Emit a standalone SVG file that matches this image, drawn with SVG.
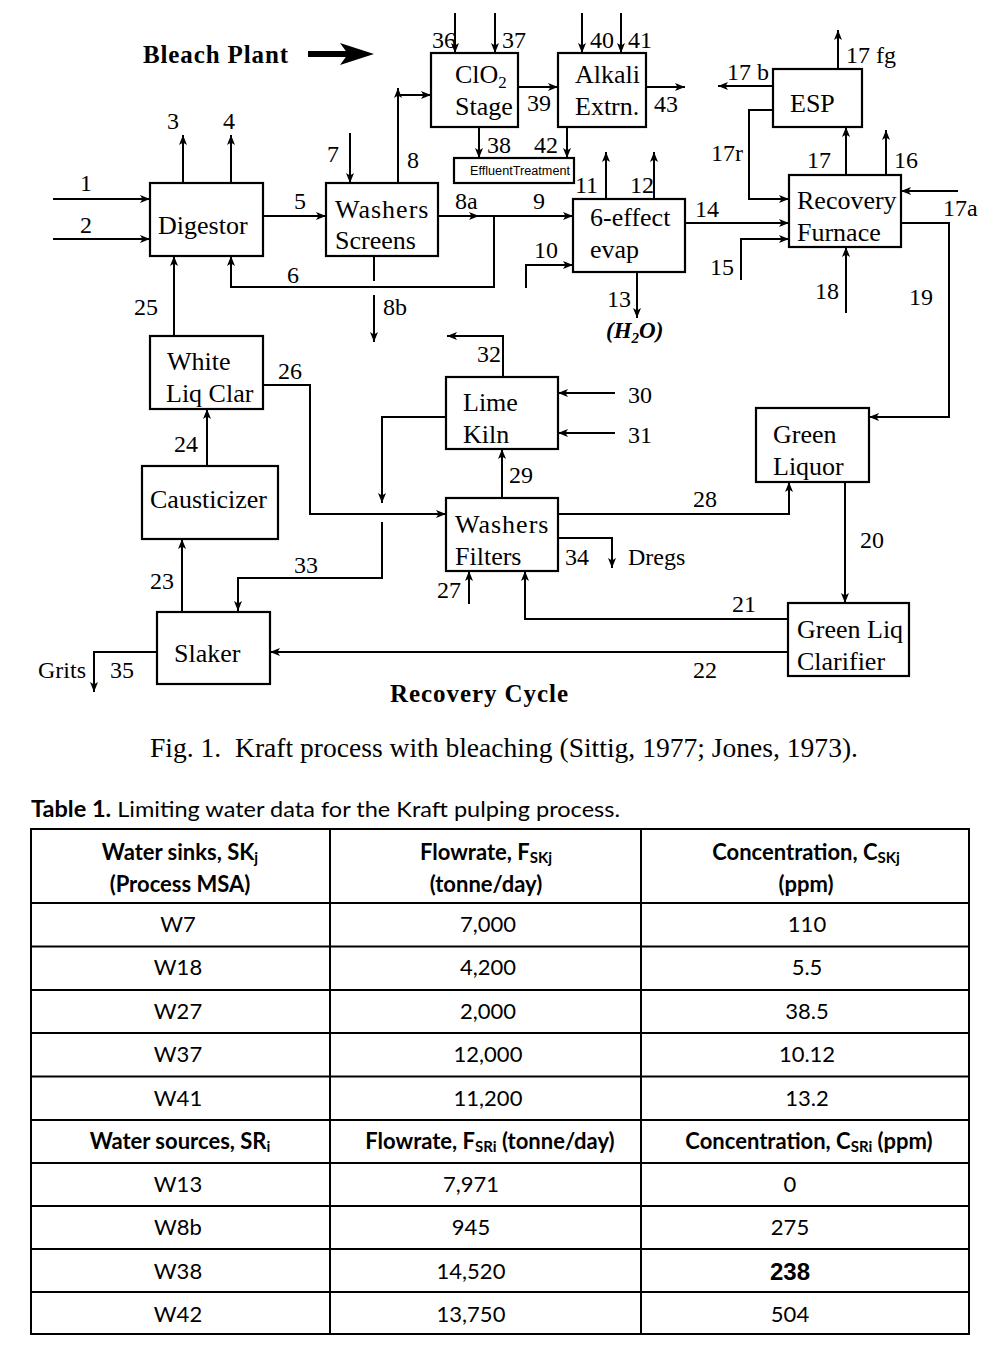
<svg xmlns="http://www.w3.org/2000/svg" width="994" height="1360" viewBox="0 0 994 1360">
<style>
.bx{fill:#fff;stroke:#000;stroke-width:2.2}
.ln{fill:none;stroke:#000;stroke-width:2}
.nt{font-family:"Liberation Serif","Times New Roman",serif;font-size:26px;fill:#000}
.lb{font-family:"Liberation Serif","Times New Roman",serif;font-size:24px;fill:#000}
.tb{font-family:Lato,"Liberation Sans",sans-serif;font-size:22px;fill:#000}
.th{font-family:Lato,"Liberation Sans",sans-serif;font-size:22px;font-weight:bold;fill:#000}
.tl{fill:none;stroke:#000;stroke-width:2}
</style>
<defs>
<marker id="ah" markerWidth="12" markerHeight="10" refX="10" refY="4" orient="auto" markerUnits="userSpaceOnUse"><path d="M0,0 L10,4 L0,8 L2.5,4 z" fill="#000"/></marker>
</defs>
<rect width="994" height="1360" fill="#fff"/>

<!-- Titles -->
<text x="143" y="63" font-family="'Liberation Serif',serif" font-weight="bold" font-size="25" textLength="145">Bleach Plant</text>
<g id="bleach-arrow">
<line x1="308" y1="54" x2="350" y2="54" stroke="#000" stroke-width="6"/>
<path d="M340,43 L374,54 L340,65 L348,54 z" fill="#000"/>
</g>

<!-- Connectors -->
<g id="connectors" class="ln">
<path class="ln" d="M53,199 H150" marker-end="url(#ah)"/>
<path class="ln" d="M53,239 H150" marker-end="url(#ah)"/>
<path class="ln" d="M183,183 V135" marker-end="url(#ah)"/>
<path class="ln" d="M231,183 V135" marker-end="url(#ah)"/>
<path class="ln" d="M263,216 H326" marker-end="url(#ah)"/>
<path class="ln" d="M350,133 V183" marker-end="url(#ah)"/>
<path class="ln" d="M398,183 V88" marker-end="url(#ah)"/>
<path class="ln" d="M398,95 H431" marker-end="url(#ah)"/>
<path class="ln" d="M438,216 H479" marker-end="url(#ah)"/>
<path class="ln" d="M477,216 H494"/>
<path class="ln" d="M494,216 H573" marker-end="url(#ah)"/>
<path class="ln" d="M494,216 V287 H231 V256" marker-end="url(#ah)"/>
<path class="ln" d="M374,256 V281"/>
<path class="ln" d="M374,295 V342" marker-end="url(#ah)"/>
<path class="ln" d="M174,336 V256" marker-end="url(#ah)"/>
<path class="ln" d="M455,13 V53" marker-end="url(#ah)"/>
<path class="ln" d="M495,13 V53" marker-end="url(#ah)"/>
<path class="ln" d="M582,13 V53" marker-end="url(#ah)"/>
<path class="ln" d="M621,13 V53" marker-end="url(#ah)"/>
<path class="ln" d="M518,87 H558" marker-end="url(#ah)"/>
<path class="ln" d="M646,87 H685" marker-end="url(#ah)"/>
<path class="ln" d="M479,127 V158" marker-end="url(#ah)"/>
<path class="ln" d="M567,127 V158" marker-end="url(#ah)"/>
<path class="ln" d="M606,199 V152" marker-end="url(#ah)"/>
<path class="ln" d="M654,199 V152" marker-end="url(#ah)"/>
<path class="ln" d="M526,288 V265 H573" marker-end="url(#ah)"/>
<path class="ln" d="M637,272 V318" marker-end="url(#ah)"/>
<path class="ln" d="M685,223 H789" marker-end="url(#ah)"/>
<path class="ln" d="M741,280 V239 H789" marker-end="url(#ah)"/>
<path class="ln" d="M846,313 V247" marker-end="url(#ah)"/>
<path class="ln" d="M846,175 V127" marker-end="url(#ah)"/>
<path class="ln" d="M886,175 V130" marker-end="url(#ah)"/>
<path class="ln" d="M958,191 H901" marker-end="url(#ah)"/>
<path class="ln" d="M901,223 H949 V417 H869" marker-end="url(#ah)"/>
<path class="ln" d="M838,69 V30" marker-end="url(#ah)"/>
<path class="ln" d="M773,86 H718" marker-end="url(#ah)"/>
<path class="ln" d="M773,110 H749 V199 H789" marker-end="url(#ah)"/>
<path class="ln" d="M503,377 V336 H447" marker-end="url(#ah)"/>
<path class="ln" d="M615,393 H558" marker-end="url(#ah)"/>
<path class="ln" d="M615,433 H558" marker-end="url(#ah)"/>
<path class="ln" d="M446,417 H382 V503" marker-end="url(#ah)"/>
<path class="ln" d="M382,522 V578 H238 V611" marker-end="url(#ah)"/>
<path class="ln" d="M263,385 H310 V514 H446" marker-end="url(#ah)"/>
<path class="ln" d="M502,498 V449" marker-end="url(#ah)"/>
<path class="ln" d="M469,604 V571" marker-end="url(#ah)"/>
<path class="ln" d="M558,538 H612 V568" marker-end="url(#ah)"/>
<path class="ln" d="M558,514 H789 V482" marker-end="url(#ah)"/>
<path class="ln" d="M788,619 H525 V571" marker-end="url(#ah)"/>
<path class="ln" d="M845,482 V603" marker-end="url(#ah)"/>
<path class="ln" d="M788,652 H270" marker-end="url(#ah)"/>
<path class="ln" d="M182,612 V539" marker-end="url(#ah)"/>
<path class="ln" d="M207,466 V409" marker-end="url(#ah)"/>
<path class="ln" d="M157,652 H94 V692" marker-end="url(#ah)"/>
</g>

<!-- Nodes -->
<g id="clo2">
<rect class="bx" x="431" y="53" width="87" height="74"/>
<text class="nt" x="455" y="83">ClO<tspan font-size="17" dy="5">2</tspan></text>
<text class="nt" x="455" y="115">Stage</text>
</g>
<g id="alkali">
<rect class="bx" x="558" y="53" width="88" height="74"/>
<text class="nt" x="575" y="83">Alkali</text>
<text class="nt" x="575" y="115">Extrn.</text>
</g>
<g id="effluent">
<rect class="bx" x="454" y="158" width="120" height="25"/>
<text x="470" y="175" font-family="'Liberation Sans',Arial,sans-serif" font-size="12" textLength="100" lengthAdjust="spacingAndGlyphs">EffluentTreatment</text>
</g>
<g id="digestor">
<rect class="bx" x="150" y="183" width="113" height="73"/>
<text class="nt" x="158" y="234">Digestor</text>
</g>
<g id="washers-screens">
<rect class="bx" x="326" y="183" width="112" height="73"/>
<text class="nt" x="335" y="218" letter-spacing="1">Washers</text>
<text class="nt" x="335" y="249">Screens</text>
</g>
<g id="evap">
<rect class="bx" x="573" y="199" width="112" height="73"/>
<text class="nt" x="590" y="226">6-effect</text>
<text class="nt" x="590" y="258">evap</text>
</g>
<g id="furnace">
<rect class="bx" x="789" y="175" width="112" height="72"/>
<text class="nt" x="797" y="209">Recovery</text>
<text class="nt" x="797" y="241">Furnace</text>
</g>
<g id="esp">
<rect class="bx" x="773" y="69" width="89" height="58"/>
<text class="nt" x="790" y="112">ESP</text>
</g>
<g id="white-liq">
<rect class="bx" x="150" y="336" width="113" height="73"/>
<text class="nt" x="167" y="370">White</text>
<text class="nt" x="166" y="402">Liq Clar</text>
</g>
<g id="lime-kiln">
<rect class="bx" x="446" y="377" width="112" height="72"/>
<text class="nt" x="463" y="411">Lime</text>
<text class="nt" x="463" y="443">Kiln</text>
</g>
<g id="washers-filters">
<rect class="bx" x="446" y="498" width="112" height="73"/>
<text class="nt" x="455" y="533" letter-spacing="1">Washers</text>
<text class="nt" x="455" y="565">Filters</text>
</g>
<g id="green-liquor">
<rect class="bx" x="756" y="408" width="113" height="74"/>
<text class="nt" x="773" y="443">Green</text>
<text class="nt" x="773" y="475">Liquor</text>
</g>
<g id="green-clarifier">
<rect class="bx" x="788" y="603" width="121" height="73"/>
<text class="nt" x="797" y="638">Green Liq</text>
<text class="nt" x="797" y="670">Clarifier</text>
</g>
<g id="causticizer">
<rect class="bx" x="142" y="466" width="136" height="73"/>
<text class="nt" x="150" y="508">Causticizer</text>
</g>
<g id="slaker">
<rect class="bx" x="157" y="612" width="113" height="72"/>
<text class="nt" x="174" y="662">Slaker</text>
</g>

<!-- Stream labels -->
<g id="labels" class="lb">
<text class="lb" x="80" y="191">1</text>
<text class="lb" x="80" y="233">2</text>
<text class="lb" x="167" y="129">3</text>
<text class="lb" x="223" y="129">4</text>
<text class="lb" x="294" y="209">5</text>
<text class="lb" x="327" y="162">7</text>
<text class="lb" x="407" y="168">8</text>
<text class="lb" x="455" y="209">8a</text>
<text class="lb" x="533" y="209">9</text>
<text class="lb" x="287" y="283">6</text>
<text class="lb" x="383" y="315">8b</text>
<text class="lb" x="134" y="315">25</text>
<text class="lb" x="432" y="48">36</text>
<text class="lb" x="502" y="48">37</text>
<text class="lb" x="590" y="48">40</text>
<text class="lb" x="628" y="48">41</text>
<text class="lb" x="527" y="111">39</text>
<text class="lb" x="654" y="112">43</text>
<text class="lb" x="487" y="153">38</text>
<text class="lb" x="534" y="153">42</text>
<text class="lb" x="575" y="193">11</text>
<text class="lb" x="630" y="193">12</text>
<text class="lb" x="534" y="258">10</text>
<text class="lb" x="607" y="307">13</text>
<text x="606" y="338" font-family="'Liberation Serif',serif" font-weight="bold" font-style="italic" font-size="23">(H<tspan font-size="15" dy="5">2</tspan><tspan dy="-5">O)</tspan></text>
<text class="lb" x="695" y="217">14</text>
<text class="lb" x="710" y="275">15</text>
<text class="lb" x="815" y="299">18</text>
<text class="lb" x="807" y="168">17</text>
<text class="lb" x="894" y="168">16</text>
<text class="lb" x="943" y="216">17a</text>
<text class="lb" x="909" y="305">19</text>
<text class="lb" x="846" y="63">17 fg</text>
<text class="lb" x="727" y="80">17 b</text>
<text class="lb" x="711" y="161">17r</text>
<text class="lb" x="477" y="362">32</text>
<text class="lb" x="628" y="403">30</text>
<text class="lb" x="628" y="443">31</text>
<text class="lb" x="509" y="483">29</text>
<text class="lb" x="437" y="598">27</text>
<text class="lb" x="565" y="565">34</text>
<text class="lb" x="628" y="565">Dregs</text>
<text class="lb" x="693" y="507">28</text>
<text class="lb" x="732" y="612">21</text>
<text class="lb" x="860" y="548">20</text>
<text class="lb" x="693" y="678">22</text>
<text class="lb" x="278" y="379">26</text>
<text class="lb" x="174" y="452">24</text>
<text class="lb" x="150" y="589">23</text>
<text class="lb" x="294" y="573">33</text>
<text class="lb" x="38" y="678">Grits</text>
<text class="lb" x="110" y="678">35</text>
</g>

<text x="390" y="702" font-family="'Liberation Serif',serif" font-weight="bold" font-size="25" textLength="178">Recovery Cycle</text>
<text x="150" y="757" font-family="'Liberation Serif',serif" font-size="27" textLength="708" lengthAdjust="spacingAndGlyphs" xml:space="preserve">Fig. 1.  Kraft process with bleaching (Sittig, 1977; Jones, 1973).</text>

<!-- Table -->
<text x="31" y="817" font-family="Lato,'Liberation Sans',sans-serif" font-size="22" textLength="589" lengthAdjust="spacingAndGlyphs"><tspan font-weight="bold">Table 1.</tspan> Limiting water data for the Kraft pulping process.</text>
<g id="table">
<rect class="tl" x="31" y="829" width="938" height="505"/>
<path class="tl" d="M330,829 V1334 M641,829 V1334 M31,903 H969 M31,946.5 H969 M31,990 H969 M31,1033 H969 M31,1076.5 H969 M31,1120 H969 M31,1163 H969 M31,1206 H969 M31,1249 H969 M31,1292 H969"/>
<g text-anchor="middle">
<text class="th" x="180" y="860">Water sinks, SK<tspan font-size="15" dy="3">j</tspan></text>
<text class="th" x="180" y="892">(Process MSA)</text>
<text class="th" x="486" y="860">Flowrate, F<tspan font-size="15" dy="3">SKj</tspan></text>
<text class="th" x="486" y="892">(tonne/day)</text>
<text class="th" x="806" y="860">Concentration, C<tspan font-size="15" dy="3">SKj</tspan></text>
<text class="th" x="806" y="892">(ppm)</text>

<text class="tb" x="178" y="932">W7</text><text class="tb" x="488" y="932">7,000</text><text class="tb" x="807" y="932">110</text>
<text class="tb" x="178" y="975">W18</text><text class="tb" x="488" y="975">4,200</text><text class="tb" x="807" y="975">5.5</text>
<text class="tb" x="178" y="1019">W27</text><text class="tb" x="488" y="1019">2,000</text><text class="tb" x="807" y="1019">38.5</text>
<text class="tb" x="178" y="1062">W37</text><text class="tb" x="488" y="1062">12,000</text><text class="tb" x="807" y="1062">10.12</text>
<text class="tb" x="178" y="1106">W41</text><text class="tb" x="488" y="1106">11,200</text><text class="tb" x="807" y="1106">13.2</text>

<text class="th" x="180" y="1149" font-size="23">Water sources, SR<tspan font-size="15" dy="3">i</tspan></text>
<text class="th" x="490" y="1149" font-size="23">Flowrate, F<tspan font-size="15" dy="3">SRi</tspan><tspan dy="-3"> (tonne/day)</tspan></text>
<text class="th" x="809" y="1149" font-size="23">Concentration, C<tspan font-size="15" dy="3">SRi</tspan><tspan dy="-3"> (ppm)</tspan></text>

<text class="tb" x="178" y="1192">W13</text><text class="tb" x="471" y="1192">7,971</text><text class="tb" x="790" y="1192">0</text>
<text class="tb" x="178" y="1235">W8b</text><text class="tb" x="471" y="1235">945</text><text class="tb" x="790" y="1235">275</text>
<text class="tb" x="178" y="1279">W38</text><text class="tb" x="471" y="1279">14,520</text><text x="790" y="1280" font-family="'Liberation Sans',Arial,sans-serif" font-weight="bold" font-size="24">238</text>
<text class="tb" x="178" y="1322">W42</text><text class="tb" x="471" y="1322">13,750</text><text class="tb" x="790" y="1322">504</text>
</g>
</g>
</svg>
